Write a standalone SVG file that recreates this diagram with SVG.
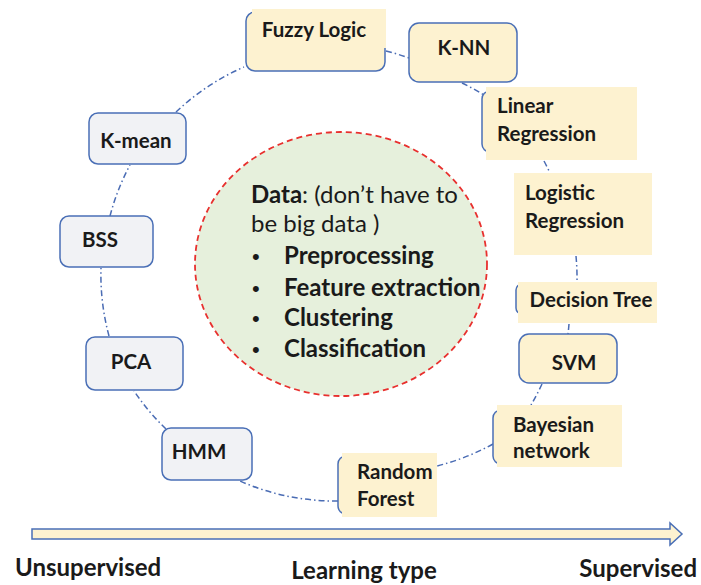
<svg xmlns="http://www.w3.org/2000/svg" width="701" height="585" viewBox="0 0 701 585">
  <defs>
    <style>
      .frame { fill: #fdf2d0; stroke: #4a6fb6; stroke-width: 1.5; }
      .pad { fill: #fdf2d0; stroke: none; }
      .gray { fill: #f1f2f5; stroke: #4a6fb6; stroke-width: 1.5; }
      .conn { fill: none; stroke: #4a6cb4; stroke-width: 1.5; stroke-dasharray: 6 3 1.5 3; }
      .lbl { font-family: Lato, "Liberation Sans", sans-serif; font-weight: 700; font-size: 20.5px; fill: #1a1a1a; }
      .mid { text-anchor: middle; }
      .core { font-family: Lato, "Liberation Sans", sans-serif; font-size: 24px; fill: #1a1a1a; }
      .b { font-weight: 700; }
      .dot { font-family: "Liberation Sans", sans-serif; font-size: 22px; fill: #1a1a1a; }
      .axis { font-family: Lato, "Liberation Sans", sans-serif; font-weight: 700; font-size: 24px; fill: #1a1a1a; }
    </style>
  </defs>

  <rect width="701" height="585" fill="#ffffff"/>

  <!-- central data bubble -->
  <g id="data">
    <ellipse cx="341" cy="264" rx="146" ry="132" fill="#e6f0dc" stroke="#e8302e" stroke-width="1.8" stroke-dasharray="6 4"/>
    <text class="core" x="251" y="203"><tspan class="b">Data</tspan>: (don’t have to</text>
    <text class="core" x="251" y="232">be big data )</text>
    <g class="dot">
      <text x="252" y="264">•</text>
      <text x="252" y="296">•</text>
      <text x="252" y="326">•</text>
      <text x="252" y="357">•</text>
    </g>
    <g class="core b">
      <text x="284" y="264">Preprocessing</text>
      <text x="284" y="296">Feature extraction</text>
      <text x="284" y="326">Clustering</text>
      <text x="284" y="357">Classification</text>
    </g>
  </g>

  <!-- dash-dot ring joining the methods, clockwise -->
  <g id="connectors">
    <path class="conn" d="M176,112 A235,235 0 0 1 244,67"/>
    <path class="conn" d="M386,51 A235,235 0 0 1 409,58"/>
    <path class="conn" d="M462,83 A235,235 0 0 1 484,95"/>
    <path class="conn" d="M544,161 A235,235 0 0 1 550,173"/>
    <path class="conn" d="M576,256 A235,235 0 0 1 577,282"/>
    <path class="conn" d="M569,324 A235,235 0 0 1 568,334"/>
    <path class="conn" d="M542,384 A235,235 0 0 1 531,405"/>
    <path class="conn" d="M493,444 A235,235 0 0 1 437,466"/>
    <path class="conn" d="M338,501 A235,235 0 0 1 240,481"/>
    <path class="conn" d="M166,429 A235,235 0 0 1 134,391"/>
    <path class="conn" d="M109,336 A235,235 0 0 1 101,268"/>
    <path class="conn" d="M110,216 A235,235 0 0 1 130,165"/>
  </g>

  <!-- supervised methods -->
  <g id="fuzzy-logic">
    <rect class="frame" x="246" y="12" width="139" height="59" rx="9"/>
    <rect class="pad" x="252" y="9" width="134" height="39"/>
    <text class="lbl mid" x="314" y="37">Fuzzy Logic</text>
  </g>
  <g id="knn">
    <rect class="frame" x="409" y="23" width="108" height="59" rx="10"/>
    <text class="lbl mid" x="464" y="55">K-NN</text>
  </g>
  <g id="linear-regression">
    <rect class="frame" x="482" y="91" width="60" height="61" rx="8"/>
    <rect class="pad" x="486" y="87" width="151" height="73"/>
    <text class="lbl" x="497" y="113">Linear</text>
    <text class="lbl" x="497" y="141">Regression</text>
  </g>
  <g id="logistic-regression">
    <rect class="pad" x="514" y="173" width="138" height="82"/>
    <text class="lbl" x="525" y="200">Logistic</text>
    <text class="lbl" x="525" y="228">Regression</text>
  </g>
  <g id="decision-tree">
    <rect class="frame" x="516" y="284" width="60" height="30" rx="6"/>
    <rect class="pad" x="518" y="282" width="139" height="41"/>
    <text class="lbl mid" x="591" y="307">Decision Tree</text>
  </g>
  <g id="svm">
    <rect class="frame" x="519" y="334" width="98" height="49" rx="10"/>
    <text class="lbl mid" x="574" y="370">SVM</text>
  </g>
  <g id="bayesian-network">
    <rect class="frame" x="493" y="410" width="60" height="54" rx="8"/>
    <rect class="pad" x="497" y="405" width="125" height="62"/>
    <text class="lbl" x="513" y="432">Bayesian</text>
    <text class="lbl" x="513" y="458">network</text>
  </g>
  <g id="random-forest">
    <rect class="frame" x="338" y="456" width="60" height="58" rx="8"/>
    <rect class="pad" x="342" y="453" width="95" height="64"/>
    <text class="lbl" x="357" y="479">Random</text>
    <text class="lbl" x="357" y="506">Forest</text>
  </g>

  <!-- unsupervised methods -->
  <g id="hmm">
    <rect class="gray" x="162" y="428" width="90" height="52" rx="9"/>
    <text class="lbl mid" x="199" y="459">HMM</text>
  </g>
  <g id="pca">
    <rect class="gray" x="86" y="337" width="97" height="53" rx="9"/>
    <text class="lbl mid" x="131" y="369">PCA</text>
  </g>
  <g id="bss">
    <rect class="gray" x="60" y="216" width="93" height="51" rx="9"/>
    <text class="lbl mid" x="100" y="247">BSS</text>
  </g>
  <g id="k-mean">
    <rect class="gray" x="89" y="113" width="97" height="51" rx="9"/>
    <text class="lbl mid" x="136" y="148">K-mean</text>
  </g>

  <!-- learning-type axis -->
  <g id="axis">
    <path d="M32,529 H670 V523 L682,534 L670,545 V539 H32 Z" fill="#fdf2d0" stroke="#4a6fb6" stroke-width="1.5" stroke-linejoin="miter"/>
    <text class="axis" x="15" y="576">Unsupervised</text>
    <text class="axis mid" x="364" y="579">Learning type</text>
    <text class="axis" x="697" y="577" text-anchor="end">Supervised</text>
  </g>
</svg>
